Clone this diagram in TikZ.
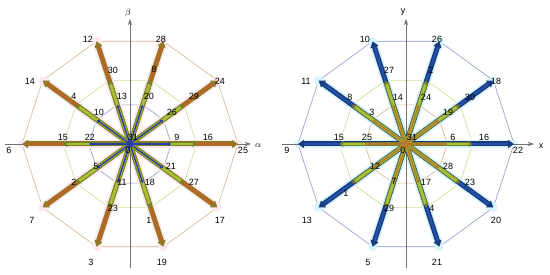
\documentclass[tikz,border=0pt]{standalone}
\usepackage{fontspec}
\setmainfont{Liberation Sans}
\usetikzlibrary{arrows.meta}
\definecolor{polytan}{HTML}{D8B090}
\definecolor{polygrn}{HTML}{CCDC8C}
\definecolor{polyblu}{HTML}{8C9AD0}
\definecolor{olive}{HTML}{8E7C22}
\definecolor{orng}{HTML}{C65E2A}
\definecolor{pinkhalo}{HTML}{FCE6EF}
\definecolor{cyanhalo}{HTML}{D4F4FA}
\definecolor{ygreen}{HTML}{A8C034}
\definecolor{ygedge}{HTML}{76802A}
\definecolor{dblue}{HTML}{2A3E9C}
\definecolor{bigblue}{HTML}{2352A8}
\definecolor{bigbluedge}{HTML}{1A3A80}
\definecolor{brownsm}{HTML}{B8782C}
\definecolor{axgray}{HTML}{707070}
\tikzset{
  lbl/.style={inner sep=0pt, font=\fontsize{9}{10}\selectfont},
  axisline/.style={draw=axgray, line width=0.6pt, -{Stealth[length=6pt,width=4pt]}},
  polyline/.style={line width=0.6pt},
  halo/.style={line width=8.5pt, line cap=round},
  bigedge/.style={line width=5pt, -{Triangle[length=6pt,width=8pt]}},
  bigcore/.style={line width=2pt, shorten >=6pt},
  midedge/.style={draw=ygedge, line width=4.4pt, -{Triangle[length=4pt,width=6pt]}},
  midcore/.style={draw=ygreen, line width=2.8pt, shorten >=4pt},
  smallvec/.style={line width=1.4pt, -{Triangle[length=3pt,width=3.5pt]}},
}
\begin{document}
\begin{tikzpicture}[x=1pt,y=-1pt]
\useasboundingbox (0,0) rectangle (550,275);
\fill[white] (0,0) rectangle (550,275);
% centers
\coordinate (OL) at (130,144);
\coordinate (OR) at (406,144);
\foreach \k in {0,...,9}{
  \coordinate (LA\k) at ({130+108*cos(36*\k)},{144-108*sin(36*\k)});
  \coordinate (LM\k) at ({130+66.7*cos(36*\k)},{144-66.7*sin(36*\k)});
  \coordinate (LS\k) at ({130+41.2*cos(36*\k)},{144-41.2*sin(36*\k)});
  \coordinate (RA\k) at ({406+108*cos(36*\k)},{144-108*sin(36*\k)});
  \coordinate (RM\k) at ({406+66.7*cos(36*\k)},{144-66.7*sin(36*\k)});
  \coordinate (RS\k) at ({406+41.2*cos(36*\k)},{144-41.2*sin(36*\k)});
}
% axes end points
\coordinate (axLw) at (5,144);   \coordinate (axLe) at (251,144);
\coordinate (axLs) at (130,268); \coordinate (axLn) at (130,19);
\coordinate (axRw) at (282,144); \coordinate (axRe) at (534,144);
\coordinate (axRs) at (406,268); \coordinate (axRn) at (406,19);
% polygons
\draw[polyline,draw=polytan] (LA0) \foreach \k in {1,...,9}{-- (LA\k)} -- cycle;
\draw[polyline,draw=polygrn] (LM0) \foreach \k in {1,...,9}{-- (LM\k)} -- cycle;
\draw[polyline,draw=polyblu] (LS0) \foreach \k in {1,...,9}{-- (LS\k)} -- cycle;
\draw[polyline,draw=polyblu] (RA0) \foreach \k in {1,...,9}{-- (RA\k)} -- cycle;
\draw[polyline,draw=polygrn] (RM0) \foreach \k in {1,...,9}{-- (RM\k)} -- cycle;
\draw[polyline,draw=polytan] (RS0) \foreach \k in {1,...,9}{-- (RS\k)} -- cycle;
% halos
\foreach \k in {0,...,9}{
  \draw[halo,draw=pinkhalo] (OL) -- (LA\k);
  \draw[halo,draw=cyanhalo] (OR) -- (RA\k);
}
% axes
\draw[axisline] (axLw) -- (axLe);
\draw[axisline] (axLs) -- (axLn);
\draw[axisline] (axRw) -- (axRe);
\draw[axisline] (axRs) -- (axRn);
% large vectors
\foreach \k in {0,...,9}{
  \draw[bigedge,draw=olive,fill=olive] (OL) -- (LA\k);
  \draw[bigcore,draw=orng] (OL) -- (LA\k);
  \draw[bigedge,draw=bigbluedge,fill=bigbluedge] (OR) -- (RA\k);
  \draw[bigcore,draw=bigblue] (OR) -- (RA\k);
}
% medium vectors
\foreach \k in {0,...,9}{
  \draw[midedge,fill=ygedge] (OL) -- (LM\k);
  \draw[midcore] (OL) -- (LM\k);
  \draw[midedge,fill=ygedge] (OR) -- (RM\k);
  \draw[midcore] (OR) -- (RM\k);
}
% small vectors
\foreach \k in {0,...,9}{
  \draw[smallvec,draw=dblue,fill=dblue] (OL) -- (LS\k);
  \draw[smallvec,draw=brownsm,fill=brownsm] (OR) -- (RS\k);
}
\fill[dblue] (OL) circle (3.5pt);
\fill[brownsm] (OR) circle (3.5pt);
% axis labels
\node[lbl] (alpha) at (258,146) {$\alpha$};
\node[lbl] (beta) at (128,13) {$\beta$};
\node[lbl] (xlab) at (541,146) {x};
\node[lbl] (ylab) at (403,12) {y};
% left labels
\foreach \t/\x/\y in {12/88/39, 28/161/39, 30/113/70, 8/154/69, 14/30/81, 24/220/81,
  4/74/96, 29/194/96, 13/122/96, 20/149/96, 10/99/112, 26/172/112, 15/63/137,
  22/90/137, 9/177/137, 16/208/137, 31/133/137, 6/9/150, 25/243/150, 0/128/150,
  5/96/166, 21/171/166, 2/74/182, 27/194/182, 11/122/182, 18/150/182,
  23/113/208, 1/149/220, 7/32/220, 17/220/220, 3/91/262, 19/162/262}{
  \node[lbl] (L\t) at (\x,\y) {\t};
}
% right labels
\foreach \t/\x/\y in {10/365/39, 26/437/39, 27/389/70, 2/431/70, 11/306/81, 18/496/81,
  8/350/97, 30/470/97, 14/398/97, 24/426/97, 3/372/112, 19/448/112, 15/339/137,
  25/367/137, 6/453/137, 16/484/137, 31/412/137, 9/287/150, 22/518/150, 0/403/150,
  12/375/166, 28/448/166, 1/346/193, 23/470/182, 7/394/181, 17/426/182,
  29/389/208, 4/432/208, 13/307/220, 20/496/220, 5/368/262, 21/437/262}{
  \node[lbl] (R\t) at (\x,\y) {\t};
}
\end{tikzpicture}
\end{document}
